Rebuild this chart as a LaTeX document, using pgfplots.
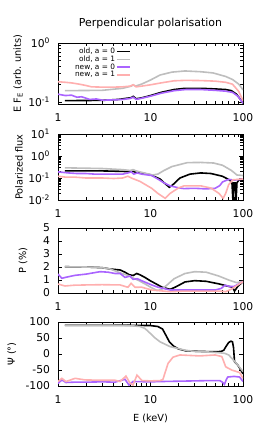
\documentclass[border=0pt]{standalone}
\usepackage{fontspec}
\setmainfont{DejaVu Sans}
\usepackage{pgfplots}
\pgfplotsset{compat=1.18}
\definecolor{cgray}{RGB}{190,190,190}
\definecolor{cpurple}{RGB}{170,100,255}
\definecolor{cpink}{RGB}{255,175,175}
\newcommand{\tfont}{\fontsize{10.8}{12}\selectfont}
\newcommand{\lfont}{\fontsize{9.8}{11}\selectfont}
\pgfplotsset{
  panel/.style={
    scale only axis, width=185bp, anchor=north west,
    xmin=1, xmax=100, xtick={1,10,100}, xticklabels={1,10,100},
    /pgf/number format/assume math mode=true,
    tick label style={font=\tfont},
    xticklabel style={anchor=center, yshift=-14bp},
    yticklabel style={anchor=east, xshift=-4.5bp},
    label style={font=\lfont},
    axis line style={line width=0.8bp},
    tick style={black, line width=0.6bp},
  },
  l0/.style={black, line width=1.6bp, no markers},
  l1/.style={cgray, line width=1.6bp, no markers},
  l2/.style={cpurple, line width=1.6bp, no markers},
  l3/.style={cpink, line width=1.6bp, no markers},
}
\begin{document}
\begin{tikzpicture}
\useasboundingbox (0,0) rectangle (266bp,-426bp);
% ---------- panel 1
\begin{loglogaxis}[panel, at={(58bp,-43bp)}, height=61bp,
  ymin=0.092, ymax=1, ytick={0.1,1},
  yticklabels={10\textsuperscript{-1},10\textsuperscript{0}},
  ylabel={E F\textsubscript{E} (arb. units)},
  ylabel style={at={(axis description cs:-0.216,0.5)}, anchor=center},
  title={Perpendicular polarisation},
  title style={font=\fontsize{11}{12}\selectfont, at={(axis description cs:0.5,1)}, anchor=center, yshift=14bp},
  legend style={draw=none, fill=none, at={(axis description cs:0.41,0.97)}, anchor=north east,
    font=\fontsize{7.4}{8}\selectfont, row sep=-1.2bp, nodes={inner sep=1bp}},
  legend cell align=right, legend plot pos=right,
  legend image code/.code={\draw[#1] (0bp,0bp) -- (13bp,0bp);},
]
\addplot[l0] coordinates {(1.19,0.105)(3,0.106)(4.5,0.11)(6.2,0.118)(6.5,0.124)(7,0.113)(8,0.117)(10,0.128)(13,0.145)(18,0.162)(23.6,0.17)(35,0.17)(50,0.166)(65,0.162)(75,0.155)(85,0.135)(92,0.115)(100,0.095)};
\addlegendentry{old, a = 0}
\addplot[l1] coordinates {(1.19,0.155)(3,0.157)(5,0.17)(6.2,0.185)(6.5,0.195)(6.9,0.185)(8,0.2)(10,0.235)(12.7,0.286)(17,0.32)(23.6,0.335)(35,0.325)(47.5,0.31)(65,0.27)(77,0.24)(90,0.2)(100,0.16)};
\addlegendentry{old, a = 1}
\addplot[l2] coordinates {(1,0.135)(1.2,0.128)(1.4,0.13)(1.6,0.12)(1.8,0.122)(2.2,0.11)(2.6,0.112)(3,0.107)(4,0.108)(5,0.11)(6,0.114)(6.5,0.12)(7,0.11)(8,0.115)(10,0.125)(13,0.14)(18,0.155)(24,0.162)(35,0.162)(50,0.157)(65,0.152)(77,0.145)(88,0.125)(100,0.095)};
\addlegendentry{new, a = 0}
\addplot[l3] coordinates {(1,0.22)(1.2,0.215)(1.4,0.21)(1.7,0.2)(2,0.19)(2.3,0.18)(3,0.178)(4,0.178)(5,0.18)(6,0.185)(6.5,0.195)(7,0.18)(8,0.185)(10,0.195)(13,0.21)(18,0.228)(24,0.232)(35,0.23)(50,0.225)(65,0.215)(77,0.2)(90,0.15)(100,0.105)};
\addlegendentry{new, a = 1}
\end{loglogaxis}
% ---------- panel 2
\begin{loglogaxis}[panel, at={(58bp,-134bp)}, height=66bp,
  ymin=0.01, ymax=10, ytick={0.01,0.1,1,10},
  yticklabels={10\textsuperscript{-2},10\textsuperscript{-1},10\textsuperscript{0},10\textsuperscript{1}},
  ylabel={Polarized flux},
  ylabel style={at={(axis description cs:-0.211,0.5)}, anchor=center},
]
\addplot[l0] coordinates {(1.19,0.21)(3,0.21)(5,0.2)(6.2,0.19)(6.5,0.2)(7,0.18)(8,0.17)(10,0.14)(12.7,0.09)(14.4,0.055)(16,0.038)(17.5,0.05)(20.8,0.1)(26.7,0.15)(35,0.17)(45,0.16)(60,0.12)(72,0.08)(76,0.06)(78,0.008)(79.5,0.06)(82,0.06)(84,0.008)(86,0.06)(90,0.08)(100,0.09)};
\addplot[l1] coordinates {(1.19,0.29)(3,0.27)(5,0.24)(6,0.22)(6.5,0.24)(7,0.21)(8.5,0.17)(10.5,0.137)(12,0.15)(14,0.22)(17,0.33)(25,0.5)(35,0.51)(48,0.48)(60,0.38)(75,0.22)(86,0.137)(100,0.13)};
\addplot[l2] coordinates {(1,0.19)(1.3,0.17)(1.6,0.16)(2,0.16)(2.5,0.15)(3,0.15)(4,0.15)(5,0.15)(5.7,0.17)(6.2,0.19)(6.6,0.15)(7.2,0.17)(8,0.15)(10.3,0.13)(12,0.09)(14,0.06)(16.3,0.044)(20,0.036)(23,0.033)(30,0.034)(40,0.032)(50,0.034)(56,0.045)(60,0.066)(70,0.087)(80,0.08)(90,0.085)(100,0.09)};
\addplot[l3] coordinates {(1,0.12)(1.2,0.11)(1.5,0.11)(2,0.1)(3,0.1)(4,0.095)(5,0.1)(5.7,0.12)(6.2,0.1)(7.7,0.07)(10.3,0.034)(12,0.02)(14.4,0.012)(16.3,0.02)(20,0.035)(23,0.044)(35,0.044)(45,0.035)(55,0.02)(61,0.012)(65,0.02)(70,0.05)(78,0.083)(100,0.09)};
\end{loglogaxis}
% ---------- panel 3
\begin{semilogxaxis}[panel, at={(58bp,-228bp)}, height=65bp,
  ymin=0, ymax=5, ytick={0,1,2,3,4,5}, yticklabels={0,1,2,3,4,5},
  ylabel={P (\%)},
  ylabel style={at={(axis description cs:-0.189,0.5)}, anchor=center},
]
\addplot[l0] coordinates {(1.19,2.02)(2,2.0)(3,1.95)(3.65,1.85)(4.7,1.77)(5.3,1.6)(5.9,1.4)(6.5,1.35)(7.1,1.5)(7.7,1.4)(8.7,1.2)(9.9,0.95)(11.5,0.7)(13.3,0.45)(16.3,0.28)(18.5,0.45)(23.6,0.85)(30,0.95)(40,0.9)(55,0.7)(72,0.49)(77,0.45)(81,0.15)(87.6,0.5)(100,0.88)};
\addplot[l1] coordinates {(1.19,2.02)(2,2.0)(3,1.95)(3.65,1.85)(4.7,1.55)(6,1.3)(6.5,1.15)(7.5,0.95)(8.7,0.7)(10,0.45)(11.7,0.2)(13,0.25)(15,0.6)(18,1.1)(23.6,1.5)(30,1.64)(40,1.6)(55,1.3)(70,1.0)(85,0.8)(100,0.88)};
\addplot[l2] coordinates {(1,1.46)(1.1,1.13)(1.2,1.2)(1.53,1.36)(2,1.45)(2.85,1.64)(3.5,1.6)(4.13,1.5)(4.7,1.5)(5.3,1.2)(6,1.3)(6.5,1.05)(7.2,1.1)(8,0.95)(10.3,0.62)(12,0.45)(16.3,0.23)(23.6,0.23)(50,0.23)(58,0.35)(64,0.6)(72,0.5)(80,0.5)(100,0.88)};
\addplot[l3] coordinates {(1,0.69)(1.19,0.54)(1.5,0.6)(2,0.62)(3,0.64)(4.7,0.62)(5.7,0.44)(6.16,0.74)(6.8,0.44)(8,0.45)(10.3,0.23)(16.3,0.1)(23.6,0.15)(56,0.15)(65,0.1)(75,0.3)(100,0.88)};
\end{semilogxaxis}
% ---------- panel 4
\begin{semilogxaxis}[panel, at={(58bp,-322bp)}, height=64bp,
  ymin=-100, ymax=100, ytick={-100,-50,0,50,100}, yticklabels={-100,-50,0,50,100},
  ylabel={Ψ (°)},
  ylabel style={at={(axis description cs:-0.249,0.5)}, anchor=center},
  xlabel={E (keV)},
  xlabel style={at={(axis description cs:0.5,0)}, anchor=center, yshift=-32bp},
]
\addplot[l0] coordinates {(1.19,90)(5,90)(9.9,89)(12,86)(13.5,78)(14.9,55)(16,38)(17.7,25)(20,16)(24,10)(35,8)(50,7)(58,8)(62,12)(66,25)(70,36)(74,40)(77,38)(79,20)(81,-24)(87.6,-34)(100,-62)};
\addplot[l1] coordinates {(1.19,90)(3,90)(5,89.5)(6,88.5)(7.7,86)(8.7,80)(9.9,65)(11,52)(12.7,38)(16.3,23)(23.6,12)(30,8)(44,6)(55,4)(63.6,2)(70,-3)(75.5,-13)(87.6,-34)(100,-55)};
\addplot[l2] coordinates {(1,-92)(1.1,-81)(1.22,-89)(1.5,-88)(2,-88)(3,-87)(4.13,-88)(5.3,-79)(5.85,-97)(6.47,-86)(10,-87)(13,-86)(20,-85)(30,-84)(45,-83)(56,-83)(60,-88)(63,-95)(66,-80)(68.4,-72)(80,-70)(92,-72)(100,-86)};
\addplot[l3] coordinates {(1,-86)(1.1,-76)(1.22,-86)(1.53,-76)(1.96,-81)(3,-82)(4.13,-82)(4.68,-86)(5.43,-69)(6,-91)(6.47,-97)(7.14,-66)(8.09,-83)(10,-84)(12.7,-83)(13.6,-80)(15.5,-29)(17.5,-10)(20.8,-3)(34,-6)(50,-3)(59,-8)(62,-24)(65,-40)(75.5,-50)(92,-58)(100,-76)};
\end{semilogxaxis}
\end{tikzpicture}
\end{document}
